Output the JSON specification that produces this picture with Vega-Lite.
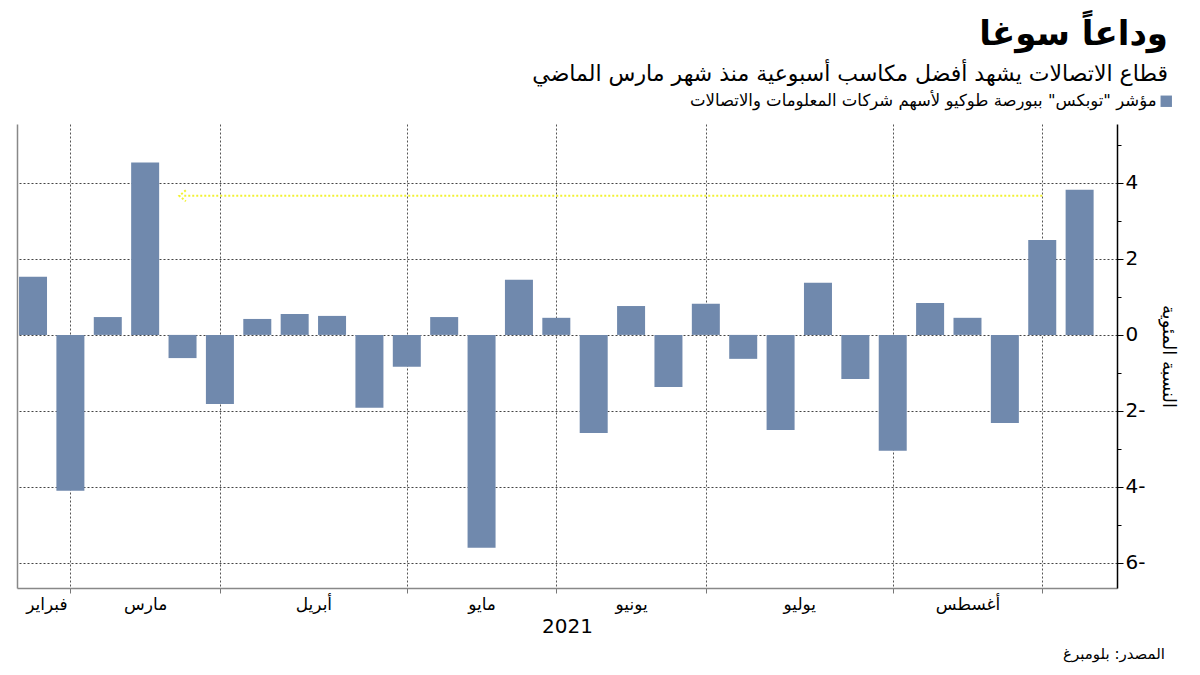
{
  "$schema": "https://vega.github.io/schema/vega-lite/v6.json",
  "width": 1100,
  "height": 464,
  "autosize": "none",
  "padding": {"left": 17, "top": 124, "right": 83, "bottom": 87},
  "background": "white",
  "config": {
    "view": {"stroke": null},
    "font": "DejaVu Sans",
    "axis": {"labelFont": "DejaVu Sans", "titleFont": "DejaVu Sans", "labelColor": "#000", "titleColor": "#000", "titleFontWeight": "normal"}
  },
  "title": {
    "text": "وداعاً سوغا",
    "subtitle": "قطاع الاتصالات يشهد أفضل مكاسب أسبوعية منذ شهر مارس الماضي",
    "anchor": "end",
    "frame": "group",
    "dx": 51,
    "offset": 8,
    "fontSize": 34,
    "fontWeight": "bold",
    "color": "#000",
    "subtitleFontSize": 22,
    "subtitleColor": "#000",
    "subtitlePadding": 12
  },
  "datasets": {
    "weekly": [
      {"date": "2021-02-19", "value": 1.53, "series": "مؤشر \"توبكس\" ببورصة طوكيو لأسهم شركات المعلومات والاتصالات"},
      {"date": "2021-02-26", "value": -4.1, "series": "مؤشر \"توبكس\" ببورصة طوكيو لأسهم شركات المعلومات والاتصالات"},
      {"date": "2021-03-05", "value": 0.47, "series": "مؤشر \"توبكس\" ببورصة طوكيو لأسهم شركات المعلومات والاتصالات"},
      {"date": "2021-03-12", "value": 4.54, "series": "مؤشر \"توبكس\" ببورصة طوكيو لأسهم شركات المعلومات والاتصالات"},
      {"date": "2021-03-19", "value": -0.61, "series": "مؤشر \"توبكس\" ببورصة طوكيو لأسهم شركات المعلومات والاتصالات"},
      {"date": "2021-03-26", "value": -1.82, "series": "مؤشر \"توبكس\" ببورصة طوكيو لأسهم شركات المعلومات والاتصالات"},
      {"date": "2021-04-02", "value": 0.42, "series": "مؤشر \"توبكس\" ببورصة طوكيو لأسهم شركات المعلومات والاتصالات"},
      {"date": "2021-04-09", "value": 0.55, "series": "مؤشر \"توبكس\" ببورصة طوكيو لأسهم شركات المعلومات والاتصالات"},
      {"date": "2021-04-16", "value": 0.5, "series": "مؤشر \"توبكس\" ببورصة طوكيو لأسهم شركات المعلومات والاتصالات"},
      {"date": "2021-04-23", "value": -1.92, "series": "مؤشر \"توبكس\" ببورصة طوكيو لأسهم شركات المعلومات والاتصالات"},
      {"date": "2021-04-30", "value": -0.84, "series": "مؤشر \"توبكس\" ببورصة طوكيو لأسهم شركات المعلومات والاتصالات"},
      {"date": "2021-05-07", "value": 0.47, "series": "مؤشر \"توبكس\" ببورصة طوكيو لأسهم شركات المعلومات والاتصالات"},
      {"date": "2021-05-14", "value": -5.6, "series": "مؤشر \"توبكس\" ببورصة طوكيو لأسهم شركات المعلومات والاتصالات"},
      {"date": "2021-05-21", "value": 1.45, "series": "مؤشر \"توبكس\" ببورصة طوكيو لأسهم شركات المعلومات والاتصالات"},
      {"date": "2021-05-28", "value": 0.45, "series": "مؤشر \"توبكس\" ببورصة طوكيو لأسهم شركات المعلومات والاتصالات"},
      {"date": "2021-06-04", "value": -2.58, "series": "مؤشر \"توبكس\" ببورصة طوكيو لأسهم شركات المعلومات والاتصالات"},
      {"date": "2021-06-11", "value": 0.76, "series": "مؤشر \"توبكس\" ببورصة طوكيو لأسهم شركات المعلومات والاتصالات"},
      {"date": "2021-06-18", "value": -1.37, "series": "مؤشر \"توبكس\" ببورصة طوكيو لأسهم شركات المعلومات والاتصالات"},
      {"date": "2021-06-25", "value": 0.82, "series": "مؤشر \"توبكس\" ببورصة طوكيو لأسهم شركات المعلومات والاتصالات"},
      {"date": "2021-07-02", "value": -0.63, "series": "مؤشر \"توبكس\" ببورصة طوكيو لأسهم شركات المعلومات والاتصالات"},
      {"date": "2021-07-09", "value": -2.5, "series": "مؤشر \"توبكس\" ببورصة طوكيو لأسهم شركات المعلومات والاتصالات"},
      {"date": "2021-07-16", "value": 1.37, "series": "مؤشر \"توبكس\" ببورصة طوكيو لأسهم شركات المعلومات والاتصالات"},
      {"date": "2021-07-23", "value": -1.16, "series": "مؤشر \"توبكس\" ببورصة طوكيو لأسهم شركات المعلومات والاتصالات"},
      {"date": "2021-07-30", "value": -3.05, "series": "مؤشر \"توبكس\" ببورصة طوكيو لأسهم شركات المعلومات والاتصالات"},
      {"date": "2021-08-06", "value": 0.84, "series": "مؤشر \"توبكس\" ببورصة طوكيو لأسهم شركات المعلومات والاتصالات"},
      {"date": "2021-08-13", "value": 0.45, "series": "مؤشر \"توبكس\" ببورصة طوكيو لأسهم شركات المعلومات والاتصالات"},
      {"date": "2021-08-20", "value": -2.32, "series": "مؤشر \"توبكس\" ببورصة طوكيو لأسهم شركات المعلومات والاتصالات"},
      {"date": "2021-08-27", "value": 2.5, "series": "مؤشر \"توبكس\" ببورصة طوكيو لأسهم شركات المعلومات والاتصالات"},
      {"date": "2021-09-03", "value": 3.82, "series": "مؤشر \"توبكس\" ببورصة طوكيو لأسهم شركات المعلومات والاتصالات"}
    ],
    "arrow": [
      {"start": "2021-08-27", "end": "2021-03-19", "level": 3.66}
    ],
    "source": [
      {"date": "2021-09-10", "level": -8.4, "label": "المصدر: بلومبرغ"}
    ]
  },
  "resolve": {"axis": {"x": "independent", "y": "independent"}},
  "layer": [
    {
      "data": {"name": "weekly"},
      "mark": {"type": "bar", "size": 28},
      "encoding": {
        "x": {
          "field": "date", "type": "temporal",
          "scale": {"domain": ["2021-02-16", "2021-09-10"], "nice": false, "padding": 0},
          "axis": {
            "orient": "bottom",
            "values": ["2021-02-26", "2021-03-26", "2021-04-30", "2021-05-28", "2021-06-25", "2021-07-30", "2021-08-27"],
            "labels": false,
            "title": null,
            "grid": true,
            "gridDash": [2, 2],
            "gridColor": "#555",
            "gridWidth": 1,
            "ticks": true,
            "tickSize": 5,
            "tickColor": "#777",
            "domain": true,
            "domainColor": "#888",
            "domainWidth": 1.5
          }
        },
        "y": {
          "field": "value", "type": "quantitative",
          "scale": {"domain": [-6.66, 5.55], "nice": false, "zero": false},
          "axis": {
            "orient": "right",
            "values": [-6, -5, -4, -3, -2, -1, 0, 1, 2, 3, 4, 5],
            "labelExpr": "datum.value % 2 !== 0 ? '' : (datum.value < 0 ? (-datum.value) + '-' : datum.value + '')",
            "labelFontSize": 20,
            "labelPadding": 2,
            "title": "النسبة المئوية",
            "titleAngle": 90,
            "titleFontSize": 18,
            "titlePadding": 14,
            "grid": true,
            "gridDash": [2, 2],
            "gridColor": "#444",
            "gridOpacity": {"condition": {"test": "datum.value % 2 !== 0", "value": 0}, "value": 1},
            "tickSize": {"condition": {"test": "datum.value % 2 !== 0", "value": 4}, "value": 6},
            "tickColor": "#000",
            "domainColor": "#000",
            "domainWidth": 1.5
          }
        },
        "color": {
          "field": "series", "type": "nominal",
          "scale": {"range": ["#7089ad"]},
          "legend": {
            "orient": "none",
            "legendX": 1141,
            "legendY": -31,
            "title": null,
            "padding": 0,
            "symbolType": "square",
            "symbolSize": 130,
            "symbolStrokeWidth": 0,
            "symbolOpacity": 1,
            "labelFontSize": 16.5,
            "labelColor": "#000",
            "labelAlign": "right",
            "labelOffset": -18,
            "labelLimit": 700
          }
        }
      }
    },
    {
      "data": {"name": "arrow"},
      "mark": {"type": "rule", "color": "#f2f233", "strokeWidth": 2, "strokeDash": [2, 2]},
      "encoding": {
        "x": {
          "field": "start", "type": "temporal",
          "axis": {
            "orient": "bottom",
            "values": ["2021-02-21T12:00:00", "2021-03-12T00:00:00", "2021-04-12T12:00:00", "2021-05-14T00:00:00", "2021-06-11T00:00:00", "2021-07-12T12:00:00", "2021-08-13T00:00:00"],
            "labelExpr": "['يناير','فبراير','مارس','أبريل','مايو','يونيو','يوليو','أغسطس','سبتمبر','أكتوبر','نوفمبر','ديسمبر'][month(datum.value)]",
            "labelFontSize": 17,
            "labelPadding": 8,
            "labelFlush": false,
            "labelOverlap": false,
            "ticks": false,
            "grid": false,
            "domain": false,
            "title": "2021",
            "titleFontSize": 20,
            "titlePadding": 4
          }
        },
        "x2": {"field": "end"},
        "y": {
          "field": "level", "type": "quantitative",
          "axis": {"orient": "left", "labels": false, "ticks": false, "grid": false, "title": null, "domain": true, "domainColor": "#888", "domainWidth": 1.5}
        }
      }
    },
    {
      "data": {"name": "arrow"},
      "mark": {"type": "point", "shape": "M0.6,-1L-0.6,0L0.6,1", "filled": false, "size": 120, "color": "#f2f233", "strokeWidth": 2, "strokeDash": [2, 2], "opacity": 1},
      "encoding": {
        "x": {"field": "end", "type": "temporal", "axis": null},
        "y": {"field": "level", "type": "quantitative", "axis": null}
      }
    },
    {
      "data": {"name": "source"},
      "mark": {"type": "text", "align": "right", "baseline": "middle", "fontSize": 15, "dx": 48, "color": "#000", "clip": false},
      "encoding": {
        "x": {"field": "date", "type": "temporal", "axis": null},
        "y": {"field": "level", "type": "quantitative", "axis": null},
        "text": {"field": "label"}
      }
    }
  ]
}
